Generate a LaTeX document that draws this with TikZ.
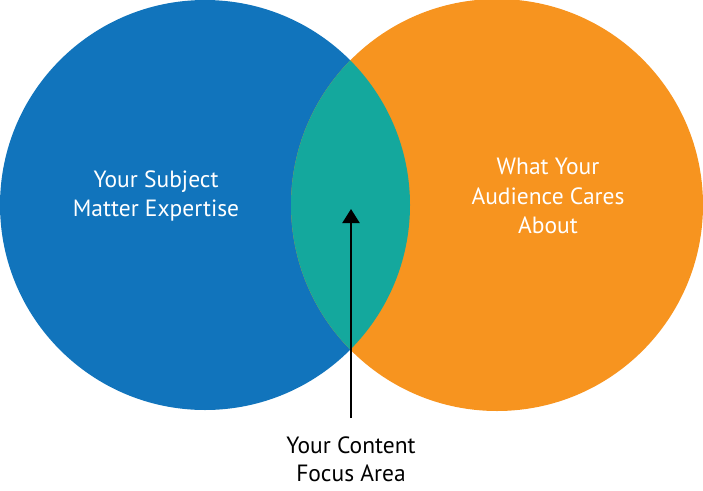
\documentclass[tikz,border=0pt]{standalone}
\usepackage{fontspec}
\setmainfont{PT Sans}
\usetikzlibrary{arrows.meta}
\definecolor{vblue}{HTML}{1174BC}
\definecolor{vorange}{HTML}{F7941F}
\definecolor{vteal}{HTML}{14A89D}
\begin{document}
\begin{tikzpicture}[x=1pt,y=-1pt,
  lbl/.style={font=\fontsize{23.5}{29.5}\selectfont, align=center, inner sep=0pt},
  venn/.style={circle, inner sep=0pt, minimum size=#1}]
\useasboundingbox (0,0) rectangle (703,490);
\node[venn=410pt, fill=vblue] (L) at (205,205) {};
\node[venn=412pt, fill=vorange] (R) at (497,205) {};
\begin{scope}
  \clip (205,205) circle (205);
  \fill[vteal] (497,205) circle (206);
\end{scope}
\node[lbl, text=white] (lt) at (156,196) {Your Subject\\Matter Expertise};
\node[lbl, text=white] (rt) at (548,196) {What Your\\Audience Cares\\About};
\node[lbl, text=black, font=\fontsize{23.5}{28}\selectfont] (bt) at (351,459) {Your Content\\Focus Area};
\coordinate (tip) at (351,209);
\coordinate (base) at (351,418);
\draw[line width=2.2pt, -{Triangle[length=14pt,width=17pt]}] (base) -- (tip);
\end{tikzpicture}
\end{document}
